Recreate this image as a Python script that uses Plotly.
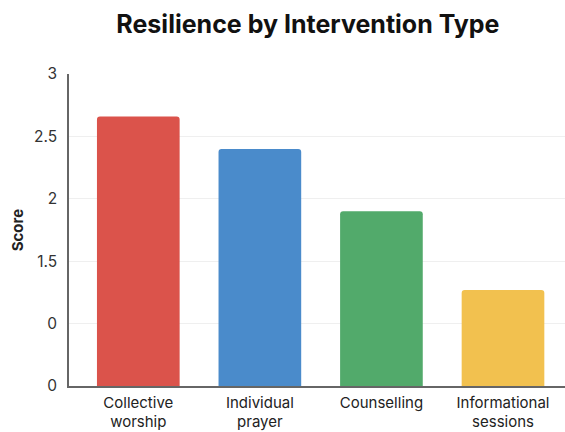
import plotly.graph_objects as go

categories = ["Collective<br>worship", "Individual<br>prayer", "Counselling", "Informational<br>sessions"]
scores = [2.66, 2.40, 1.90, 1.27]
bar_colors = ["#DB534B", "#4A8BCB", "#52AA6B", "#F2C14F"]
tick_vals = [0.5, 1, 1.5, 2, 2.5, 3]
tick_text = ["0", "0", "1.5", "2", "2.5", "3"]

fig = go.Figure(
    go.Bar(
        x=categories,
        y=scores,
        marker=dict(color=bar_colors, line=dict(width=0), cornerradius=3),
        width=0.68,
    )
)

fig.update_layout(
    width=565,
    height=432,
    margin=dict(l=69, r=0, t=74, b=46),
    paper_bgcolor="white",
    plot_bgcolor="white",
    font=dict(family="Inter, Roboto, sans-serif", color="#333333", size=15),
    title=dict(
        text="<b>Resilience by Intervention Type</b>",
        x=0.545,
        xref="container",
        xanchor="center",
        y=0.943,
        yref="container",
        yanchor="middle",
        font=dict(size=25, color="#111111"),
    ),
    showlegend=False,
)

fig.update_xaxes(
    range=[-0.57, 3.51],
    automargin=False,
    showline=True,
    linecolor="#666666",
    linewidth=1.5,
    ticks="",
    showgrid=False,
    ticklabelstandoff=2,
    tickfont=dict(size=15, color="#222222"),
)

fig.update_yaxes(
    range=[0.5, 3],
    automargin=False,
    tickvals=tick_vals,
    ticktext=tick_text,
    showline=True,
    linecolor="#666666",
    linewidth=1.5,
    showgrid=True,
    gridcolor="#EFEFEF",
    gridwidth=1,
    zeroline=False,
    ticks="",
    ticklabelstandoff=7,
    tickfont=dict(size=15.5, color="#333333"),
    title=dict(text="<b>Score</b>", font=dict(size=15, color="#222222"), standoff=7),
)

fig.write_html("out.html")
